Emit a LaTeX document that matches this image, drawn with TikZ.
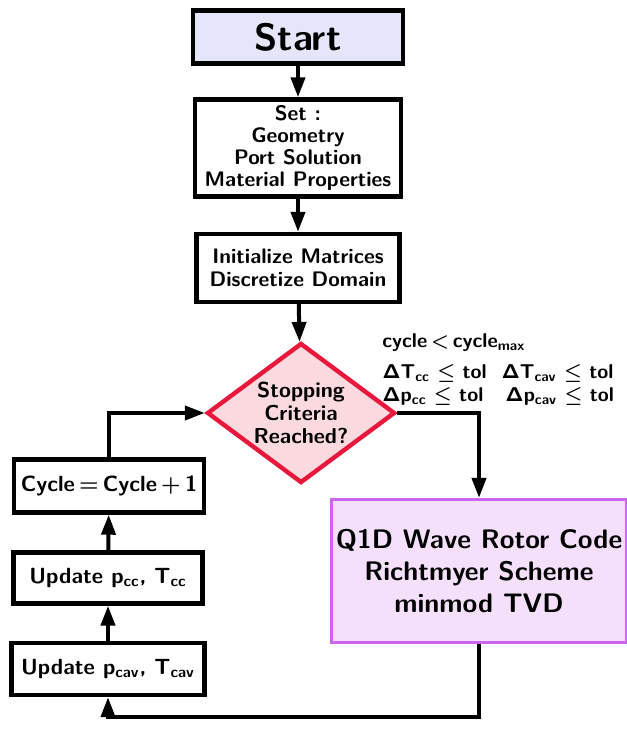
\documentclass[tikz,border=0pt]{standalone}
\usepackage{tikz}
\usetikzlibrary{shapes.geometric, arrows.meta, positioning, calc}
\definecolor{startfill}{HTML}{E6E6FA}
\definecolor{stopfill}{HTML}{FADADF}
\definecolor{stopdraw}{HTML}{E8173C}
\definecolor{solverfill}{HTML}{F5E0FC}
\definecolor{solverdraw}{HTML}{CC66EE}
\newcommand{\Dlt}{$\mathsf{\Delta}$}

\begin{document}
\begin{tikzpicture}[
  x=0.5pt, y=-0.5pt,
  font=\sffamily\bfseries\boldmath,
  box/.style={draw, line width=2.2pt, align=center, inner sep=2pt, font=\sffamily\bfseries\boldmath\fontsize{10.5}{11}\selectfont},
  loopbox/.style={box, font=\sffamily\bfseries\boldmath\fontsize{11}{13}\selectfont},
  flow/.style={line width=2pt, -{Triangle[length=10pt, width=7pt]}},
]
  \useasboundingbox (0,0) rectangle (626,748);

  % Main column
  \node[box, fill=startfill, minimum width=105pt, minimum height=26.5pt, font=\sffamily\bfseries\fontsize{19}{22}\selectfont] (start) at (298,37) {Start};
  \node[box, minimum width=103pt, minimum height=48.5pt] (setup) at (298,148) {Set :\\Geometry\\Port Solution\\Material Properties};
  \node[box, minimum width=101.5pt, minimum height=34pt, font=\sffamily\bfseries\fontsize{10.5}{11.5}\selectfont] (init) at (298,268) {Initialize Matrices\\Discretize Domain};

  % Decision
  \node[diamond, draw=stopdraw, fill=stopfill, line width=2.2pt, inner sep=-7pt, minimum width=94pt, minimum height=70pt, align=center, font=\sffamily\bfseries\fontsize{10.8}{11.5}\selectfont] (stop) at (301,413) {Stopping\\Criteria\\Reached?};
  \node[anchor=north west, align=left, inner sep=0pt, font=\sffamily\bfseries\boldmath\fontsize{10}{11.5}\selectfont] (criteria) at (382,333)
    {cycle$\,<\,$cycle\textsubscript{max}\\[4pt]
     \Dlt T\textsubscript{cc} $\leq$ tol~ \Dlt T\textsubscript{cav} $\leq$ tol\\
     \Dlt p\textsubscript{cc} $\leq$ tol~~ \Dlt p\textsubscript{cav} $\leq$ tol};

  % Solver
  \node[box, draw=solverdraw, fill=solverfill, line width=1.6pt, minimum width=146.5pt, minimum height=71.5pt, font=\sffamily\bfseries\fontsize{13.4}{16}\selectfont] (solver) at (479,571) {Q1D Wave Rotor Code\\Richtmyer Scheme\\minmod TVD};

  % Update loop
  \node[loopbox, minimum width=95pt, minimum height=26.5pt] (cycle) at (109,486) {Cycle$\,=\,$Cycle$\,+\,$1};
  \node[loopbox, minimum width=94.5pt, minimum height=25.5pt] (updcc) at (108,578) {Update p\textsubscript{cc}, T\textsubscript{cc}};
  \node[loopbox, minimum width=96.5pt, minimum height=26pt] (updcav) at (108,669) {Update p\textsubscript{cav}, T\textsubscript{cav}};
  \coordinate (bottom) at (0,717);

  % Connectors
  \draw[flow] (start) -- (setup);
  \draw[flow] (setup) -- (init);
  \draw[flow] (init) -- (stop);
  \draw[flow] (stop.east) -| (solver.north);
  \draw[flow] (solver.south) -- (solver.south |- bottom) -| (updcav.south);
  \draw[flow] (updcav) -- (updcc);
  \draw[flow] (updcc) -- (cycle);
  \draw[flow] (cycle.north) |- (stop.west);

\end{tikzpicture}
\end{document}
